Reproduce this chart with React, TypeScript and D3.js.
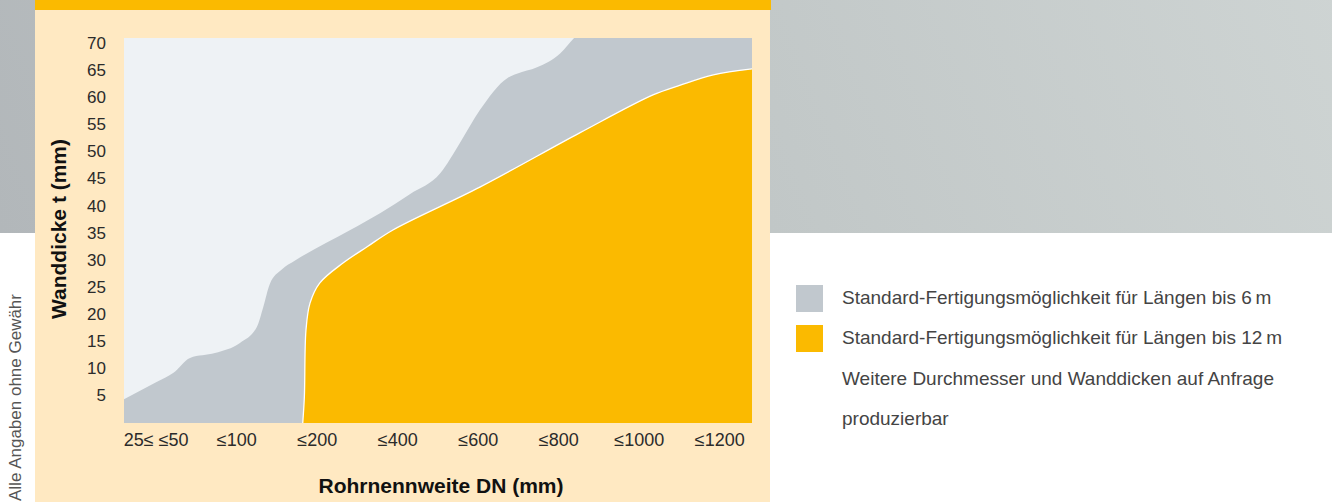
import { useEffect, useRef } from 'react'
import * as d3 from 'd3'

// x in category-position units (0 = first DN class), t in mm
const categories = ['25\u2264 \u226450', '\u2264100', '\u2264200', '\u2264400', '\u2264600', '\u2264800', '\u22641000', '\u22641200']
const yTicks = [5, 10, 15, 20, 25, 30, 35, 40, 45, 50, 55, 60, 65, 70]

// upper edge of the grey area (lengths up to 6 m)
const greyX = [-0.4, 0.01, 0.21, 0.42, 0.73, 1.04, 1.25, 1.33, 1.41, 1.56, 1.72, 2.41, 2.78, 3.15, 3.53, 3.77, 4.02, 4.36, 4.48, 4.73, 5.02, 5.19, 5.4, 7.4]
const greyT = [4.4, 7.6, 9.2, 12.0, 12.9, 14.75, 17.7, 21.4, 25.6, 28.3, 29.9, 35.6, 38.7, 42.2, 46.1, 51.6, 57.7, 63.6, 64.4, 65.6, 68.2, 71, 74, 76]

// upper edge of the orange area (lengths up to 12 m)
const orangeX = [1.82, 1.84, 1.86, 1.91, 2.03, 2.32, 2.62, 2.94, 4.02, 5.26, 6.17, 6.51, 6.92, 7.4]
const orangeT = [0, 4.8, 17.1, 22.1, 25.8, 29.5, 32.5, 35.6, 43.5, 53.5, 60.5, 62.3, 64.2, 65.3]

const legendItems = [
  { label: 'Standard-Fertigungsm\u00f6glichkeit f\u00fcr L\u00e4ngen bis 6\u2009m', color: '#c1c8ce' },
  { label: 'Standard-Fertigungsm\u00f6glichkeit f\u00fcr L\u00e4ngen bis 12\u2009m', color: '#fbba00' },
]
const noteLines = ['Weitere Durchmesser und Wanddicken auf Anfrage', 'produzierbar']

const W = 1332
const H = 502
const FONT = '"Liberation Sans", Arial, sans-serif'

export default function App() {
  const ref = useRef<SVGSVGElement | null>(null)

  useEffect(() => {
    const svg = d3.select(ref.current)
    svg.selectAll('*').remove()
    svg.attr('width', W).attr('height', H).style('font-family', FONT)

    const defs = svg.append('defs')
    const grad = defs
      .append('linearGradient')
      .attr('id', 'band')
      .attr('gradientUnits', 'userSpaceOnUse')
      .attr('x1', 0)
      .attr('y1', 233)
      .attr('x2', 1332)
      .attr('y2', -300)
    grad.append('stop').attr('offset', '0%').attr('stop-color', '#b2b7ba')
    grad.append('stop').attr('offset', '50%').attr('stop-color', '#c1c7c7')
    grad.append('stop').attr('offset', '100%').attr('stop-color', '#d0d6d5')

    // background band + panel
    svg.append('rect').attr('width', W).attr('height', H).attr('fill', '#fff')
    svg.append('rect').attr('width', W).attr('height', 233).attr('fill', 'url(#band)')
    svg.append('rect').attr('x', 35).attr('y', 0).attr('width', 735).attr('height', H).attr('fill', '#ffe9c2')
    svg.append('rect').attr('x', 35).attr('y', 0).attr('width', 736).attr('height', 10).attr('fill', '#fbba00')

    const plot = { left: 124, right: 752, top: 38, bottom: 423 }
    const x = d3.scaleLinear().domain([-0.4, categories.length - 1 + 0.4]).range([plot.left, plot.right])
    const y = d3.scaleLinear().domain([0, 71]).range([plot.bottom, plot.top])

    defs
      .append('clipPath')
      .attr('id', 'plotclip')
      .append('rect')
      .attr('x', plot.left)
      .attr('y', plot.top)
      .attr('width', plot.right - plot.left)
      .attr('height', plot.bottom - plot.top)

    const g = svg.append('g').attr('clip-path', 'url(#plotclip)')
    g.append('rect')
      .attr('x', plot.left)
      .attr('y', plot.top)
      .attr('width', plot.right - plot.left)
      .attr('height', plot.bottom - plot.top)
      .attr('fill', '#eef2f5')

    const grey = greyX.map((v, i) => [v, greyT[i]] as [number, number])
    const orange = orangeX.map((v, i) => [v, orangeT[i]] as [number, number])

    const greyArea = d3
      .area<[number, number]>()
      .x((d) => x(d[0]))
      .y0(y(0))
      .y1((d) => y(d[1]))
      .curve(d3.curveMonotoneX)
    const orangeArea = d3
      .area<[number, number]>()
      .x((d) => x(d[0]))
      .y0(y(0))
      .y1((d) => y(d[1]))
      .curve(d3.curveCatmullRom.alpha(0.5))
    const edge = d3
      .line<[number, number]>()
      .x((d) => x(d[0]))
      .y((d) => y(d[1]))
      .curve(d3.curveCatmullRom.alpha(0.5))

    g.append('path').datum(grey).attr('d', greyArea).attr('fill', '#c1c8ce')
    g.append('path').datum(orange).attr('d', orangeArea).attr('fill', '#fbba00')
    g.append('path')
      .datum(orange)
      .attr('d', edge)
      .attr('fill', 'none')
      .attr('stroke', '#fff')
      .attr('stroke-width', 1.3)

    // y ticks
    svg
      .append('g')
      .selectAll('text')
      .data(yTicks)
      .enter()
      .append('text')
      .attr('x', 106)
      .attr('y', (d) => y(d) + 1)
      .attr('text-anchor', 'end')
      .attr('dominant-baseline', 'middle')
      .attr('fill', '#2b2b2b')
      .style('font-size', '17px')
      .text((d) => d)

    // x ticks
    svg
      .append('g')
      .selectAll('text')
      .data(categories)
      .enter()
      .append('text')
      .attr('x', (_d, i) => x(i))
      .attr('y', 441)
      .attr('text-anchor', 'middle')
      .attr('dominant-baseline', 'middle')
      .attr('fill', '#2b2b2b')
      .style('font-size', '18px')
      .text((d) => d)

    // axis titles
    svg
      .append('text')
      .attr('transform', `translate(${(plot.left + plot.right) / 2 + 3},487)`)
      .attr('text-anchor', 'middle')
      .attr('dominant-baseline', 'middle')
      .attr('fill', '#111')
      .style('font-size', '21px')
      .style('font-weight', 'bold')
      .text('Rohrnennweite DN (mm)')
    svg
      .append('text')
      .attr('transform', 'translate(60,229) rotate(-90)')
      .attr('text-anchor', 'middle')
      .attr('dominant-baseline', 'middle')
      .attr('fill', '#111')
      .style('font-size', '21px')
      .style('font-weight', 'bold')
      .text('Wanddicke t (mm)')

    // side note
    svg
      .append('text')
      .attr('transform', 'translate(21,501) rotate(-90)')
      .attr('text-anchor', 'start')
      .attr('fill', '#555')
      .style('font-size', '17px')
      .text('Alle Angaben ohne Gew\u00e4hr')

    // legend
    const legend = svg.append('g').attr('transform', 'translate(796,285)')
    legendItems.forEach((it, i) => {
      legend
        .append('rect')
        .attr('x', 0)
        .attr('y', i * 40)
        .attr('width', 27)
        .attr('height', 27)
        .attr('fill', it.color)
      legend
        .append('text')
        .attr('x', 46)
        .attr('y', i * 40 + 14)
        .attr('dominant-baseline', 'middle')
        .attr('fill', '#444')
        .style('font-size', '19px')
        .text(it.label)
    })
    noteLines.forEach((t, i) => {
      legend
        .append('text')
        .attr('x', 46)
        .attr('y', (i + 2) * 40 + 15)
        .attr('dominant-baseline', 'middle')
        .attr('fill', '#444')
        .style('font-size', '19px')
        .text(t)
    })
  }, [])

  return <svg ref={ref} style={{ position: 'absolute', left: 0, top: 0, display: 'block' }} />
}
